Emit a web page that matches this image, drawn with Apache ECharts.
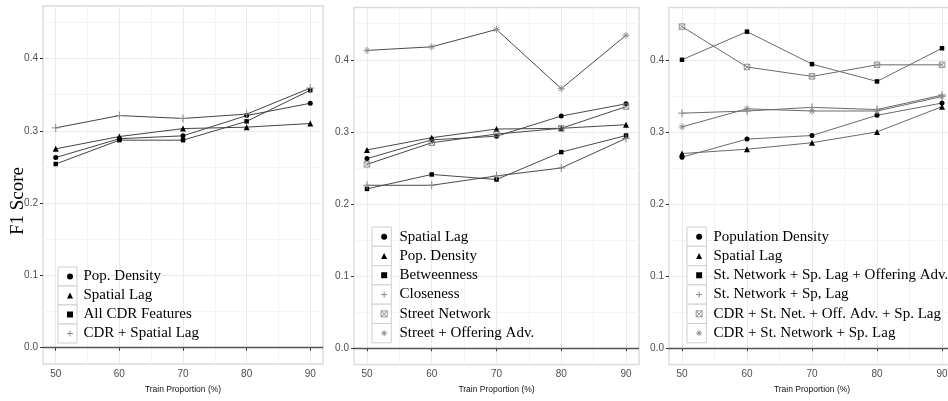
<!DOCTYPE html>
<html><head><meta charset="utf-8">
<script src="https://cdn.jsdelivr.net/npm/echarts@6/dist/echarts.min.js"></script>
<style>html,body{margin:0;padding:0;background:#fff}#c{width:948px;height:401px}</style>
</head><body><div id="c"></div>
<script>
// ---------- data ----------
const trainProportion = [50, 60, 70, 80, 90];
const xTickLabels = [50, 60, 70, 80, 90];
const xMinorTicks = [55, 65, 75, 85];
const yTickLabels = [0, 0.1, 0.2, 0.3, 0.4];
const yMinorTicks = [0.05, 0.15, 0.25, 0.35, 0.45];
const refLine = 0;

// panel 1
const p1Names = ['Pop. Density', 'Spatial Lag', 'All CDR Features', 'CDR + Spatial Lag'];
const p1PopDensity   = [0.263, 0.289, 0.293, 0.321, 0.338];
const p1SpatialLag   = [0.275, 0.292, 0.303, 0.305, 0.310];
const p1AllCDR       = [0.254, 0.287, 0.287, 0.313, 0.356];
const p1CDRSpatial   = [0.304, 0.321, 0.317, 0.323, 0.359];

// panel 2
const p2Names = ['Spatial Lag', 'Pop. Density', 'Betweenness', 'Closeness', 'Street Network', 'Street + Offering Adv.'];
const p2SpatialLag     = [0.263, 0.289, 0.294, 0.322, 0.339];
const p2PopDensity     = [0.275, 0.292, 0.304, 0.305, 0.310];
const p2Betweenness    = [0.221, 0.241, 0.234, 0.272, 0.295];
const p2Closeness      = [0.226, 0.226, 0.239, 0.250, 0.291];
const p2StreetNetwork  = [0.255, 0.285, 0.297, 0.305, 0.335];
const p2StreetOffering = [0.413, 0.418, 0.442, 0.360, 0.434];

// panel 3
const p3Names = ['Population Density', 'Spatial Lag', 'St. Network + Sp. Lag + Offering Adv.', 'St. Network + Sp, Lag', 'CDR + St. Net. + Off. Adv. + Sp. Lag', 'CDR + St. Network + Sp. Lag'];
const p3PopDensity       = [0.265, 0.290, 0.295, 0.323, 0.340];
const p3SpatialLag       = [0.270, 0.276, 0.285, 0.300, 0.335];
const p3StNetSpLagOff    = [0.400, 0.439, 0.394, 0.370, 0.416];
const p3StNetSpLag       = [0.326, 0.329, 0.334, 0.331, 0.351];
const p3CDRStNetOffSpLag = [0.446, 0.390, 0.377, 0.393, 0.393];
const p3CDRStNetSpLag    = [0.307, 0.332, 0.329, 0.329, 0.349];

// ---------- styles ----------
const SANS = 'Liberation Sans, Arial, sans-serif';
const SERIF = 'Liberation Serif, Times New Roman, serif';
const MARK = '#888888';
const SYM = {
  circle:   { symbol: 'circle', size: 5, style: { color: '#000', borderWidth: 0 } },
  triangle: { symbol: 'triangle', size: 6, style: { color: '#000', borderWidth: 0 } },
  square:   { symbol: 'rect', size: 4.5, style: { color: '#000', borderWidth: 0 } },
  plus:     { symbol: 'path://M5,0L5,10M0,5L10,5', size: 8, style: { color: 'none', borderColor: MARK, borderWidth: 1 } },
  xsquare:  { symbol: 'path://M0,0L10,0L10,10L0,10ZM0,0L10,10M10,0L0,10', size: 5.5, style: { color: 'none', borderColor: MARK, borderWidth: 0.9 } },
  asterisk: { symbol: 'path://M5,0L5,10M0,5L10,5M1.6,1.6L8.4,8.4M8.4,1.6L1.6,8.4', size: 7, style: { color: 'none', borderColor: MARK, borderWidth: 0.9 } }
};

const panels = [
  { grid: { left: 43, top: 6, width: 280, height: 358 }, lineColor: '#444444',
    names: p1Names, values: [p1PopDensity, p1SpatialLag, p1AllCDR, p1CDRSpatial],
    syms: ['circle', 'triangle', 'square', 'plus'],
    legend: { boxLeft: 58, boxTop: 267, rowH: 19, textLeft: 81 }, yName: 'F1 Score' },
  { grid: { left: 354, top: 7.5, width: 285, height: 357 }, lineColor: '#4a4a4a',
    names: p2Names, values: [p2SpatialLag, p2PopDensity, p2Betweenness, p2Closeness, p2StreetNetwork, p2StreetOffering],
    syms: ['circle', 'triangle', 'square', 'plus', 'xsquare', 'asterisk'],
    legend: { boxLeft: 372, boxTop: 227, rowH: 19.3, textLeft: 397 } },
  { grid: { left: 669, top: 7.5, width: 286, height: 357 }, lineColor: '#6a6a6a',
    names: p3Names, values: [p3PopDensity, p3SpatialLag, p3StNetSpLagOff, p3StNetSpLag, p3CDRStNetOffSpLag, p3CDRStNetSpLag],
    syms: ['circle', 'triangle', 'square', 'plus', 'xsquare', 'asterisk'],
    legend: { boxLeft: 687, boxTop: 227, rowH: 19.3, textLeft: 711 } }
];

const grid = [], xAxis = [], yAxis = [], series = [], legend = [], graphic = [];
const ICON = 6;

panels.forEach((p, i) => {
  grid.push(Object.assign({ show: true, borderColor: '#dadada', borderWidth: 1.4, backgroundColor: '#fff', containLabel: false, outerBoundsMode: 'none' }, p.grid));
  // main x axis
  xAxis.push({
    type: 'value', gridIndex: i, min: 48, max: 92, position: 'bottom',
    axisLine: { show: false },
    axisTick: { show: true, length: 3, lineStyle: { color: '#333', width: 1 }, customValues: xTickLabels },
    axisLabel: { customValues: xTickLabels, fontFamily: SANS, fontSize: 10, color: '#4d4d4d', margin: 5 },
    splitLine: { show: true, lineStyle: { color: '#ebebeb', width: 1 } },
    name: 'Train Proportion (%)', nameLocation: 'middle', nameGap: 21, nameMoveOverlap: false,
    nameTextStyle: { fontFamily: SANS, fontSize: 8.5, color: '#111' }
  });
  // minor x grid
  xAxis.push({
    type: 'value', gridIndex: i, min: 48, max: 92, position: 'bottom',
    axisLine: { show: false }, axisLabel: { show: false, customValues: xMinorTicks },
    axisTick: { show: false, customValues: xMinorTicks },
    splitLine: { show: true, lineStyle: { color: '#f4f4f4', width: 1 } }
  });
  const ya = {
    type: 'value', gridIndex: i, min: -0.0225, max: 0.4725, position: 'left',
    axisLine: { show: false },
    axisTick: { show: true, length: 3, lineStyle: { color: '#333', width: 1 }, customValues: yTickLabels },
    axisLabel: { customValues: yTickLabels, fontFamily: SANS, fontSize: 10, color: '#4d4d4d', margin: 5,
                 formatter: v => Number(v).toFixed(1) },
    splitLine: { show: true, lineStyle: { color: '#ebebeb', width: 1 } }
  };
  if (p.yName) {
    Object.assign(ya, { name: p.yName, nameLocation: 'middle', nameRotate: 90, nameGap: 15, nameMoveOverlap: false,
      nameTextStyle: { fontFamily: SERIF, fontSize: 19, color: '#000', padding: [0, 32, 0, 0] } });
  }
  yAxis.push(ya);
  yAxis.push({
    type: 'value', gridIndex: i, min: -0.0225, max: 0.4725, position: 'left',
    axisLine: { show: false }, axisLabel: { show: false, customValues: yMinorTicks },
    axisTick: { show: false, customValues: yMinorTicks },
    splitLine: { show: true, lineStyle: { color: '#f4f4f4', width: 1 } }
  });

  p.values.forEach((vals, k) => {
    const s = SYM[p.syms[k]];
    const ser = {
      type: 'line', name: p.names[k], xAxisIndex: 2 * i, yAxisIndex: 2 * i,
      data: trainProportion.map((x, j) => [x, vals[j]]),
      symbol: s.symbol, symbolSize: s.size, showSymbol: true,
      itemStyle: s.style,
      lineStyle: { color: p.lineColor, width: 1 },
      emphasis: { disabled: true }, z: 3
    };
    if (k === 0) {
      ser.markLine = { silent: true, symbol: ['none', 'none'], label: { show: false },
        lineStyle: { color: '#555', width: 1.3, type: 'solid' }, data: [{ yAxis: refLine }] };
    }
    series.push(ser);
  });

  const L = p.legend;
  const iconLeft = L.boxLeft + (L.rowH - ICON) / 2;
  legend.push({
    orient: 'vertical', left: iconLeft, top: L.boxTop, padding: 0, itemGap: 0,
    itemWidth: ICON, itemHeight: ICON, selectedMode: false, z: 5,
    textStyle: { fontFamily: SERIF, fontSize: 15, color: '#000', lineHeight: L.rowH,
                 padding: [0, 0, 0, L.textLeft - (iconLeft + ICON + 5)] },
    data: p.names.map((n, k) => {
      const s = SYM[p.syms[k]];
      return { name: n, icon: s.symbol, itemStyle: s.style };
    })
  });
  p.names.forEach((n, k) => {
    graphic.push({ type: 'rect', z: 4, silent: true,
      shape: { x: L.boxLeft, y: L.boxTop + k * L.rowH, width: L.rowH, height: L.rowH },
      style: { fill: '#fff', stroke: '#cfcfcf', lineWidth: 1 } });
  });
});

const chart = echarts.init(document.getElementById('c'), null, { renderer: 'canvas' });
chart.setOption({ animation: false, backgroundColor: '#fff', grid, xAxis, yAxis, series, legend, graphic, tooltip: { show: false } });
</script>
</body></html>
